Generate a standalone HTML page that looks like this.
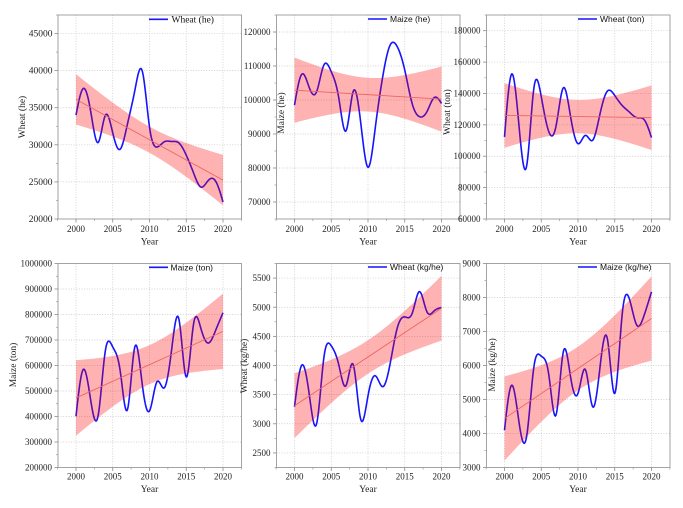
<!DOCTYPE html>
<html><head><meta charset="utf-8">
<style>
html,body{margin:0;padding:0;background:#fff;}
svg{display:block;}
.t{font-family:"Liberation Serif",serif;font-size:9px;fill:#222;}
.t1{font-family:"Liberation Serif",serif;font-size:9.5px;fill:#222;}
.ti{font-family:"Liberation Serif",serif;font-size:9.5px;fill:#222;}
.l{font-family:"Liberation Sans",sans-serif;font-size:8.5px;fill:#111;}
.ls{font-family:"Liberation Serif",serif;font-size:9.5px;fill:#111;}
</style></head><body>
<svg id="s" width="683" height="508" xmlns="http://www.w3.org/2000/svg">
<rect x="0" y="0" width="683" height="508" fill="#fff"/>
<g id="plots"></g>

<!-- Panel 1 -->
<g class="t1" text-anchor="end">
<text x="52.5" y="222">20000</text><text x="52.5" y="184.9">25000</text><text x="52.5" y="147.8">30000</text>
<text x="52.5" y="110.7">35000</text><text x="52.5" y="73.6">40000</text><text x="52.5" y="36.5">45000</text>
</g>
<g class="t" text-anchor="middle">
<text x="76" y="232">2000</text><text x="112.75" y="232">2005</text><text x="149.5" y="232">2010</text><text x="186.25" y="232">2015</text><text x="223" y="232">2020</text>
</g>
<text class="ti" x="149.5" y="244.5" text-anchor="middle">Year</text>
<text class="ti" transform="translate(23,117) rotate(-90)" text-anchor="middle" dominant-baseline="central">Wheat (he)</text>
<text class="ls" x="171.5" y="22.3">Wheat (he)</text>

<!-- Panel 2 -->
<g class="t" text-anchor="end">
<text x="270.5" y="205">70000</text><text x="270.5" y="171">80000</text><text x="270.5" y="137">90000</text>
<text x="270.5" y="103">100000</text><text x="270.5" y="69">110000</text><text x="270.5" y="35">120000</text>
</g>
<g class="t" text-anchor="middle">
<text x="294.5" y="232">2000</text><text x="331.25" y="232">2005</text><text x="368" y="232">2010</text><text x="404.75" y="232">2015</text><text x="441.5" y="232">2020</text>
</g>
<text class="ti" x="368" y="244.5" text-anchor="middle">Year</text>

<!-- Panel 3 -->
<g class="t" text-anchor="end">
<text x="480.5" y="222">60000</text><text x="480.5" y="190.6">80000</text><text x="480.5" y="159.2">100000</text>
<text x="480.5" y="127.8">120000</text><text x="480.5" y="96.5">140000</text><text x="480.5" y="65.1">160000</text><text x="480.5" y="33.7">180000</text>
</g>
<g class="t" text-anchor="middle">
<text x="504.5" y="232">2000</text><text x="541.25" y="232">2005</text><text x="578" y="232">2010</text><text x="614.75" y="232">2015</text><text x="651.5" y="232">2020</text>
</g>
<text class="ti" x="578" y="244.5" text-anchor="middle">Year</text>

<!-- Panel 4 -->
<g class="t" text-anchor="end">
<text x="52" y="470.5">200000</text><text x="52" y="445">300000</text><text x="52" y="419.5">400000</text>
<text x="52" y="394">500000</text><text x="52" y="368.5">600000</text><text x="52" y="343">700000</text>
<text x="52" y="317.5">800000</text><text x="52" y="292">900000</text><text x="52" y="266.5">1000000</text>
</g>
<g class="t" text-anchor="middle">
<text x="76" y="479.5">2000</text><text x="112.75" y="479.5">2005</text><text x="149.5" y="479.5">2010</text><text x="186.25" y="479.5">2015</text><text x="223" y="479.5">2020</text>
</g>
<text class="ti" x="149.5" y="492" text-anchor="middle">Year</text>
<text class="ti" transform="translate(14,365) rotate(-90)" text-anchor="middle" dominant-baseline="central">Maize (ton)</text>

<!-- Panel 5 -->
<g class="t" text-anchor="end">
<text x="270.5" y="455.9">2500</text><text x="270.5" y="426.8">3000</text><text x="270.5" y="397.6">3500</text>
<text x="270.5" y="368.5">4000</text><text x="270.5" y="339.4">4500</text><text x="270.5" y="310.3">5000</text><text x="270.5" y="281.1">5500</text>
</g>
<g class="t" text-anchor="middle">
<text x="294.5" y="479.5">2000</text><text x="331.25" y="479.5">2005</text><text x="368" y="479.5">2010</text><text x="404.75" y="479.5">2015</text><text x="441.5" y="479.5">2020</text>
</g>
<text class="ti" x="368" y="492" text-anchor="middle">Year</text>
<text class="ti" transform="translate(245,366) rotate(-90)" text-anchor="middle" dominant-baseline="central">Wheat (kg/he)</text>

<!-- Panel 6 -->
<g class="t" text-anchor="end">
<text x="480.5" y="470.5">3000</text><text x="480.5" y="436.5">4000</text><text x="480.5" y="402.5">5000</text>
<text x="480.5" y="368.5">6000</text><text x="480.5" y="334.5">7000</text><text x="480.5" y="300.5">8000</text><text x="480.5" y="266.5">9000</text>
</g>
<g class="t" text-anchor="middle">
<text x="504.5" y="479.5">2000</text><text x="541.25" y="479.5">2005</text><text x="578" y="479.5">2010</text><text x="614.75" y="479.5">2015</text><text x="651.5" y="479.5">2020</text>
</g>
<text class="ti" x="578" y="492" text-anchor="middle">Year</text>

<g id="over"></g>
<!-- titles overlapping plot areas -->
<text class="ti" transform="translate(282,113) rotate(-90)" text-anchor="middle" dominant-baseline="central">Maize (he)</text>
<text class="ti" transform="translate(448,112) rotate(-90)" text-anchor="middle" dominant-baseline="central">Wheat (ton)</text>
<text class="ti" transform="translate(493,365) rotate(-90)" text-anchor="middle" dominant-baseline="central">Maize (kg/he)</text>

<text class="l" x="390" y="22">Maize (he)</text>
<text class="l" x="600" y="22">Wheat (ton)</text>
<text class="l" x="170.5" y="270.3">Maize (ton)</text>
<text class="l" x="390" y="270">Wheat (kg/he)</text>
<text class="l" x="600" y="270">Maize (kg/he)</text>
</svg>
<script>
(function(){
const NS="http://www.w3.org/2000/svg";
const g=document.getElementById('plots');
function el(tag,attrs){const e=document.createElementNS(NS,tag);for(const k in attrs)e.setAttribute(k,attrs[k]);g.appendChild(e);return e;}
const P=[
 {x0:76,top:15,bot:219,vmin:20000,vmax:47500,step:5000,first:20000,
  data:[34000,37600,34500,30300,34000,31600,29400,32800,37300,40000,32400,29700,30400,30450,30250,28600,26200,24300,25200,25100,22300],
  f0:36130,f1:25240,h:3400,leg:[149,168,19.3]},
 {x0:294.5,top:15,bot:219,vmin:65000,vmax:125000,step:10000,first:70000,
  data:[98500,107600,103700,102400,110300,108300,100900,90900,102600,93500,80200,92000,106800,116100,115600,108800,99000,95100,96500,100700,99000],
  f0:102900,f1:100250,h:9580,leg:[368,387,19]},
 {x0:504.5,top:15,bot:219,vmin:60000,vmax:190000,step:20000,first:60000,
  data:[112300,152500,118000,93500,143500,138000,116000,119000,143600,125000,108000,113300,110200,127100,141500,138700,132400,128100,124600,123300,111900],
  f0:126000,f1:124550,h:20600,leg:[578,597,19]},
 {x0:76,top:263.5,bot:467.5,vmin:200000,vmax:1000000,step:100000,first:200000,
  data:[401000,585000,463700,402000,659500,672600,581200,427200,672600,529000,422000,535500,512000,659500,782000,555000,764000,744400,688000,737900,807000],
  f0:472800,f1:733900,h:148000,leg:[149,168,267.3]},
 {x0:294.5,top:263.5,bot:467.5,vmin:2250,vmax:5750,step:500,first:2500,
  data:[3293,4007,3510,2997,4138,4338,4024,3653,4012,3080,3480,3824,3636,4024,4652,4834,4891,5268,4926,4937,4994],
  f0:3310,f1:4983,h:556,leg:[368,387,267]},
 {x0:504.5,top:263.5,bot:467.5,vmin:3000,vmax:9000,step:1000,first:3000,
  data:[4098,5422,4294,3902,5961,6275,5765,4539,6402,5650,5180,5882,4784,5961,6780,5176,7480,7950,7186,7480,8167],
  f0:4441,f1:7382,h:1240,leg:[578,597,267]}
];
function spl(y){const n=y.length,m=n-2;const c=new Array(m),d=new Array(m);
 for(let i=0;i<m;i++){const r=6*(y[i+2]-2*y[i+1]+y[i]);
  if(i==0){c[i]=1/4;d[i]=r/4;}else{const den=4-c[i-1];c[i]=1/den;d[i]=(r-d[i-1])/den;}}
 const M=new Array(n).fill(0);
 for(let i=m-1;i>=0;i--){M[i+1]=d[i]-(i<m-1?c[i]*M[i+2]:0);}
 return M;}
P.forEach(p=>{
 const X=t=>p.x0+t*7.35;
 const Y=v=>p.bot-(v-p.vmin)/(p.vmax-p.vmin)*(p.bot-p.top);
 const L=p.x0-18, R=p.x0+147+18.5;
 const gs={stroke:'#c4c4c4','stroke-width':0.7,'stroke-dasharray':'1,1.6'};
 for(let yr=0;yr<=20;yr+=5){el('line',Object.assign({x1:X(yr),x2:X(yr),y1:p.top,y2:p.bot},gs));}
 for(let v=p.first;v<=p.vmax+1e-6;v+=p.step){const y=Y(v);if(y>p.top+1&&y<p.bot-1)el('line',Object.assign({x1:L,x2:R,y1:y,y2:y},gs));}
 for(let v=p.first;v<=p.vmax+1e-6;v+=p.step){const y=Y(v);el('line',{x1:L-3.5,x2:L,y1:y,y2:y,stroke:'#888','stroke-width':0.8});
  const ym=Y(v+p.step/2);if(ym>=p.top)el('line',{x1:L-2,x2:L,y1:ym,y2:ym,stroke:'#999','stroke-width':0.7});
  const yb=Y(v-p.step/2);if(v==p.first&&yb<=p.bot)el('line',{x1:L-2,x2:L,y1:yb,y2:yb,stroke:'#999','stroke-width':0.7});}
 for(let yr=0;yr<=20;yr+=5){el('line',{x1:X(yr),x2:X(yr),y1:p.bot,y2:p.bot+3.5,stroke:'#888','stroke-width':0.8});}
 for(let yr=-2.5;yr<=22.5;yr+=5){el('line',{x1:X(yr),x2:X(yr),y1:p.bot,y2:p.bot+2,stroke:'#999','stroke-width':0.7});}
 const y=p.data,M=spl(y);let d='';
 for(let i=0;i<y.length-1;i++){for(let k=(i==0?0:1);k<=12;k++){const t=k/12;
  const v=(1-t)*y[i]+t*y[i+1]+(((1-t)**3-(1-t))*M[i]+(t**3-t)*M[i+1])/6;
  d+=(d?'L':'M')+X(i+t).toFixed(2)+','+Y(v).toFixed(2);}}
 el('path',{d:d,fill:'none',stroke:'#1414ff','stroke-width':1.6,'stroke-linejoin':'round'});
 const fit=t=>p.f0+(p.f1-p.f0)*t/20;
 const hw=t=>p.h*Math.sqrt(1/21+(t-10)*(t-10)/770)/0.4213;
 let up=[],lo=[];
 for(let t=0;t<=20.0001;t+=0.25){up.push(X(t).toFixed(2)+','+Y(fit(t)+hw(t)).toFixed(2));lo.push(X(t).toFixed(2)+','+Y(fit(t)-hw(t)).toFixed(2));}
 lo.reverse();
 el('path',{d:'M'+up.join('L')+'L'+lo.join('L')+'Z',fill:'rgba(255,0,0,0.3)',stroke:'none'});
 el('line',{x1:X(0),x2:X(20),y1:Y(p.f0),y2:Y(p.f1),stroke:'#f06464','stroke-width':0.9});
 el('rect',{x:L,y:p.top,width:R-L,height:p.bot-p.top,fill:'none',stroke:'#9a9a9a','stroke-width':0.9});
 el('line',{x1:p.leg[0],x2:p.leg[1],y1:p.leg[2],y2:p.leg[2],stroke:'#1414ff','stroke-width':1.6});
});
})();
</script>
</body></html>
